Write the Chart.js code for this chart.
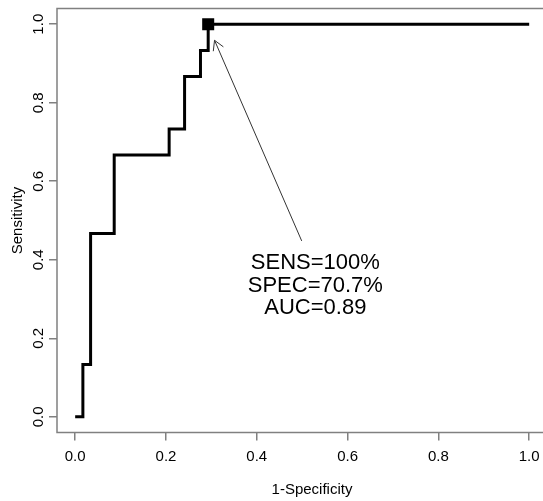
<!DOCTYPE html>
<html>
<head>
<meta charset="utf-8">
<script src="https://cdn.jsdelivr.net/npm/chart.js@4"></script>
<style>
  html, body { margin: 0; padding: 0; background: #fff; overflow: hidden; }
</style>
</head>
<body>
<!-- plot region runs past the right edge of the 543px window, like the cropped original -->
<canvas id="rocChart" width="590" height="501"></canvas>
<script>
// ROC curve points (1-specificity, sensitivity)
const fpr = [0, 0.017, 0.034, 0.086, 0.207, 0.241, 0.276, 0.293, 1];
const tpr = [0, 0.133, 0.467, 0.667, 0.733, 0.867, 0.933, 1, 1];

// best cut-off marker
const cutX = [0.293];
const cutY = [1];

const xTicks = [0, 0.2, 0.4, 0.6, 0.8, 1];
const yTicks = [0, 0.2, 0.4, 0.6, 0.8, 1];

// annotation text + arrow (data units)
const noteLines = ['SENS=100%', 'SPEC=70.7%', 'AUC=0.89'];
const noteX = 0.529;
const noteY = [0.391, 0.334, 0.277];
const arrowFrom = [0.499, 0.448];
const arrowTo = [0.307, 0.959];

const FONT = '"Liberation Sans", Arial, Helvetica, sans-serif';
const boxColor = '#808080';

// R-style box around the plot region
const boxPlugin = {
  id: 'box',
  beforeDatasetsDraw(chart) {
    const {ctx, chartArea: a} = chart;
    ctx.save();
    ctx.strokeStyle = boxColor;
    ctx.lineWidth = 1.5;
    ctx.strokeRect(a.left, a.top, a.right - a.left, a.bottom - a.top);
    ctx.restore();
  }
};

// text block and arrow
const notePlugin = {
  id: 'note',
  afterDatasetsDraw(chart) {
    const {ctx} = chart;
    const xs = chart.scales.x, ys = chart.scales.y;
    ctx.save();
    // arrow
    const x0 = xs.getPixelForValue(arrowFrom[0]), y0 = ys.getPixelForValue(arrowFrom[1]);
    const x1 = xs.getPixelForValue(arrowTo[0]), y1 = ys.getPixelForValue(arrowTo[1]);
    ctx.strokeStyle = '#333';
    ctx.lineWidth = 1;
    ctx.beginPath();
    ctx.moveTo(x0, y0);
    ctx.lineTo(x1, y1);
    const ang = Math.atan2(y1 - y0, x1 - x0);
    const head = 11;
    for (const d of [-Math.PI / 6, Math.PI / 6]) {
      ctx.moveTo(x1, y1);
      ctx.lineTo(x1 - head * Math.cos(ang + d), y1 - head * Math.sin(ang + d));
    }
    ctx.stroke();
    // text
    ctx.fillStyle = '#000';
    ctx.font = '22px ' + FONT;
    ctx.textAlign = 'center';
    ctx.textBaseline = 'middle';
    noteLines.forEach((t, i) => {
      ctx.fillText(t, xs.getPixelForValue(noteX), ys.getPixelForValue(noteY[i]));
    });
    ctx.restore();
  }
};

const ctx = document.getElementById('rocChart').getContext('2d');
new Chart(ctx, {
  type: 'line',
  data: {
    datasets: [
      {
        label: 'cutoff',
        type: 'scatter',
        data: cutX.map((x, i) => ({x: x, y: cutY[i]})),
        pointStyle: 'rect',
        pointRadius: 8.5,
        backgroundColor: '#000',
        borderColor: '#000',
        borderWidth: 0
      },
      {
        label: 'ROC',
        data: fpr.map((x, i) => ({x: x, y: tpr[i]})),
        stepped: 'before',
        borderColor: '#000',
        borderWidth: 3,
        pointRadius: 0,
        fill: false
      }
    ]
  },
  options: {
    responsive: false,
    animation: false,
    layout: { padding: { top: 7, right: 23, left: 0, bottom: 0 } },
    plugins: {
      legend: { display: false },
      tooltip: { enabled: false }
    },
    scales: {
      x: {
        type: 'linear',
        min: -0.04,
        max: 1.0833,
        afterBuildTicks: s => { s.ticks = xTicks.map(v => ({value: v})); },
        afterFit: s => { s.height = 68.5; },
        border: { display: false },
        grid: { drawOnChartArea: false, tickLength: 8, color: boxColor, lineWidth: 1.5 },
        ticks: {
          color: '#000',
          padding: 7,
          maxRotation: 0,
          font: { family: FONT, size: 15 },
          callback: v => v.toFixed(1)
        },
        title: {
          display: true,
          text: '1-Specificity',
          color: '#000',
          font: { family: FONT, size: 15 },
          padding: { top: 0, bottom: 2 }
        }
      },
      y: {
        type: 'linear',
        min: -0.04,
        max: 1.04,
        afterBuildTicks: s => { s.ticks = yTicks.map(v => ({value: v})); },
        afterFit: s => { s.width = 57; s.paddingTop = 0; s.paddingBottom = 0; },
        border: { display: false },
        grid: { drawOnChartArea: false, tickLength: 8, color: boxColor, lineWidth: 1.5 },
        ticks: {
          color: '#000',
          padding: 0,
          minRotation: 90,
          maxRotation: 90,
          crossAlign: 'center',
          font: { family: FONT, size: 15 },
          callback: v => v.toFixed(1)
        },
        title: {
          display: true,
          text: 'Sensitivity',
          color: '#000',
          font: { family: FONT, size: 15 },
          padding: { top: 9, bottom: 0 }
        }
      }
    }
  },
  plugins: [boxPlugin, notePlugin]
});
</script>
</body>
</html>
